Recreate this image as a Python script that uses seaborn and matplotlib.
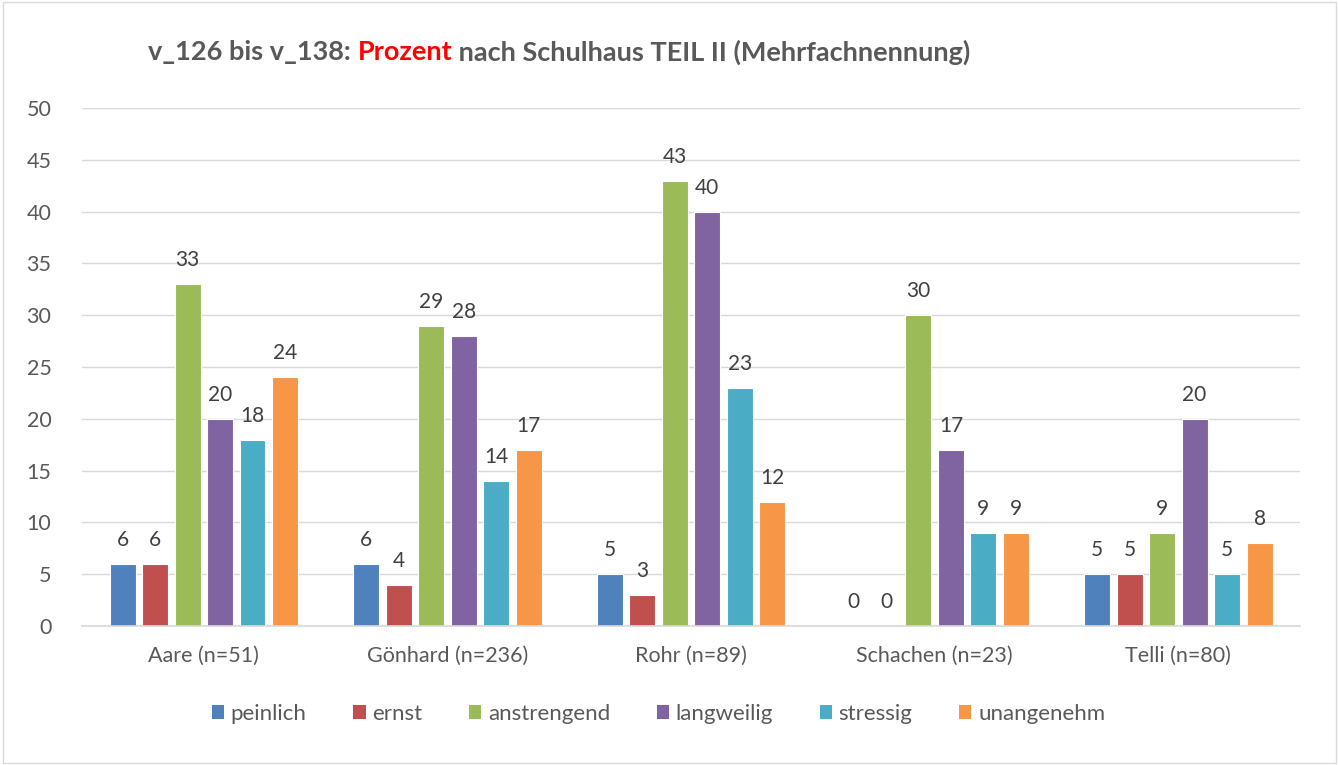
import matplotlib
matplotlib.use("Agg")
import matplotlib.pyplot as plt
import seaborn as sns
import pandas as pd
from matplotlib.patches import Patch, Rectangle

schools = ["Aare (n=51)", "Gönhard (n=236)", "Rohr (n=89)", "Schachen (n=23)", "Telli (n=80)"]
categories = ["peinlich", "ernst", "anstrengend", "langweilig", "stressig", "unangenehm"]
peinlich = [6, 6, 5, 0, 5]
ernst = [6, 4, 3, 0, 5]
anstrengend = [33, 29, 43, 30, 9]
langweilig = [20, 28, 40, 17, 20]
stressig = [18, 14, 23, 9, 5]
unangenehm = [24, 17, 12, 9, 8]
colors = ["#4F81BD", "#C0504D", "#9BBB59", "#8064A2", "#4BACC6", "#F79646"]
yticks = [0, 5, 10, 15, 20, 25, 30, 35, 40, 45, 50]

series = [peinlich, ernst, anstrengend, langweilig, stressig, unangenehm]
rows = []
for cat, vals in zip(categories, series):
    for s, v in zip(schools, vals):
        rows.append({"Schulhaus": s, "Kategorie": cat, "Prozent": v})
df = pd.DataFrame(rows)

sns.set_theme(style="white")
plt.rcParams["font.family"] = ["Lato", "DejaVu Sans"]

fig = plt.figure(figsize=(13.39, 7.65), dpi=100)
ax = fig.add_axes([0.0612, 0.1817, 0.9098, 0.6771])

sns.barplot(data=df, x="Schulhaus", y="Prozent", hue="Kategorie", order=schools,
            hue_order=categories, palette=colors, gap=0.2, width=0.8,
            edgecolor="white", linewidth=0.8, saturation=1, ax=ax, legend=False, errorbar=None)

for cont in ax.containers:
    ax.bar_label(cont, fmt="%d", padding=10, fontsize=15, color="#404040")

ax.set_ylim(0, 50)
ax.set_xlim(-0.5, 4.5)
ax.set_yticks(yticks)
ax.set_yticklabels([str(t) for t in yticks])
ax.yaxis.grid(True, color="#D9D9D9", linewidth=1)
ax.set_axisbelow(True)
for s in ["top", "right", "left"]:
    ax.spines[s].set_visible(False)
ax.spines["bottom"].set_color("#D9D9D9")
ax.spines["bottom"].set_linewidth(1.2)
ax.tick_params(axis="both", length=0, labelsize=15.5, colors="#595959")
ax.tick_params(axis="x", pad=14)
ax.tick_params(axis="y", pad=22)
ax.set_xlabel("")
ax.set_ylabel("")

handles = [Patch(facecolor=c, edgecolor="none", label=l) for c, l in zip(colors, categories)]
fig.legend(handles=handles, loc="center", bbox_to_anchor=(0.4918, 0.067), ncol=6, frameon=False,
           fontsize=16, handlelength=0.55, handleheight=0.55, handletextpad=0.3,
           columnspacing=2.1, labelcolor="#595959")

# figure border
fig.add_artist(Rectangle((0.002, 0.002), 0.996, 0.996, transform=fig.transFigure,
                         fill=False, edgecolor="#D9D9D9", linewidth=1))

# title in three colored pieces
parts = [("v_126 bis v_138: ", "#595959"), ("Prozent", "#FF0000"),
         (" nach Schulhaus TEIL II (Mehrfachnennung)", "#595959")]
fig.canvas.draw()
renderer = fig.canvas.get_renderer()
x = 148
for txt, col in parts:
    t = fig.text(x / 1339, 1 - 52 / 765, txt, color=col, fontsize=19.5, fontweight="bold",
                 va="center", ha="left")
    bb = t.get_window_extent(renderer=renderer)
    x += bb.width

fig.savefig("out.png", dpi=100)
